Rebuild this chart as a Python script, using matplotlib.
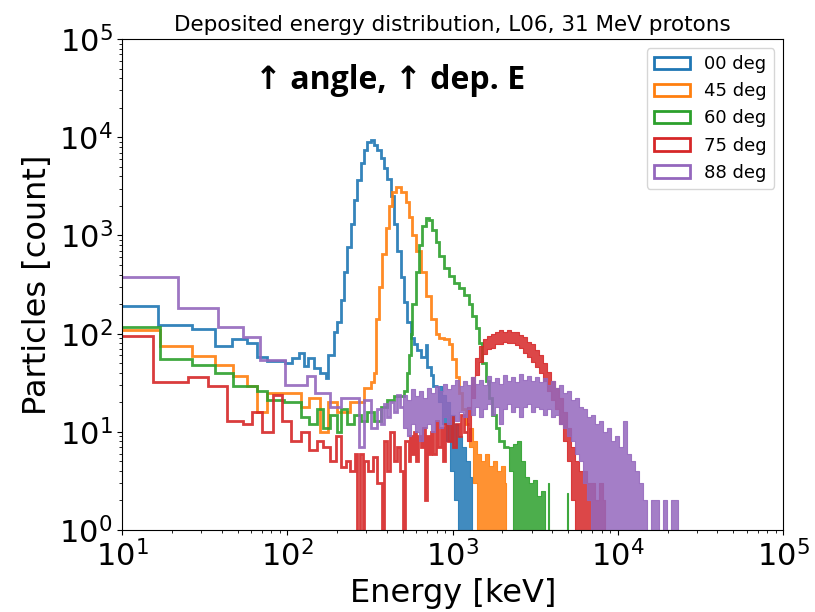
import matplotlib
matplotlib.use('Agg')
import matplotlib.pyplot as plt
from matplotlib.patches import Patch

# ---- histogram data (energy edges in keV, counts) ----
# 00 deg
e_00 = [10, 16.5, 26.5, 36.6, 46, 57, 65, 75, 97, 107, 117, 125, 134, 144, 158, 170, 177, 190, 200, 209.5,
        219.4, 230, 241, 252, 264.5, 277, 290, 304, 318.5, 333.5, 349.6, 366, 383.4, 401.8, 421, 440.6,
        462.4, 484, 506.8, 531.5, 556.5, 583, 611, 640, 686, 700, 736, 764, 810]
c_00 = [193, 123, 112, 74, 89, 80, 58, 53, 50, 57, 64, 47, 56, 45, 40, 35, 60, 105, 130, 222,
        420, 770, 1300, 2300, 3700, 5500, 7500, 9000, 9500, 8400, 7400, 6200, 4900, 3800, 2500, 1300,
        700, 380, 210, 130, 90, 78, 68, 58, 77, 46, 38, 29]
# noisy tail (many narrow bins): energy, upper and lower envelope of the counts
t_00 = [810, 856, 905, 957, 1012, 1070, 1131, 1196, 1265, 1300]
hi_00 = [29, 24, 20, 15, 12, 9, 7, 5, 3.5, 0]
lo_00 = [20, 12, 8, 4, 2, 0, 0, 0, 0, 0]

# 45 deg
e_45 = [10, 17, 26.5, 36.6, 47, 57, 65, 75, 95, 120, 135, 158, 175, 200, 240, 290, 318, 333.5, 341.6, 357.6,
        375, 392.6, 411, 431, 451, 484, 519, 544, 570, 597, 640, 686, 736, 789, 826, 885, 950, 995, 1044,
        1092, 1145, 1200, 1256]
c_45 = [110, 74, 59, 48, 37, 29, 16, 25, 25, 18, 22, 10, 20, 16, 20, 28, 32, 40, 140, 300,
        650, 1200, 2000, 2800, 3100, 2800, 2200, 1550, 1000, 700, 420, 240, 140, 100, 90, 88, 78, 55,
        36, 25, 17, 12]
t_45 = [1256, 1328, 1404, 1484, 1569, 1659, 1754, 1855, 1961, 2073, 2110]
hi_45 = [11, 8, 6, 5, 6, 4.5, 5, 4, 4.5, 3, 0]
lo_45 = [7, 3, 0, 0, 0, 0, 0, 0, 0, 0, 0]

# 60 deg
e_60 = [10, 17, 26.5, 36.6, 47, 65, 75, 95, 120, 135, 150, 165, 182, 200, 209.5, 230, 252, 277, 304, 333.5,
        366, 402, 441, 507, 531.5, 544, 556.5, 570, 597, 625, 655, 686, 719, 753, 789, 826, 885, 950,
        1018, 1092, 1172, 1256, 1316, 1378, 1443, 1512, 1584, 1659, 1738, 1820, 1906, 2046, 2195]
c_60 = [117, 55, 48, 40, 29, 26, 21, 20, 14, 12, 17, 11, 15, 10, 17, 12, 15, 13, 16,
        13, 18, 21, 23, 26, 40, 60, 100, 200, 420, 800, 1250, 1500, 1450, 1150, 850, 620, 470,
        390, 330, 295, 250, 200, 150, 115, 80, 50, 33, 22, 15, 11, 8, 7]
t_60 = [2195, 2321, 2454, 2594, 2743, 2900, 3066, 3242, 3428, 3624, 3750, 3800, 4900, 4960]
hi_60 = [7, 7.5, 8, 5, 3.5, 3, 3.2, 2.2, 2.5, 1, 3, 1, 2.4, 0]
lo_60 = [4, 0, 0, 0, 0, 0, 0, 0, 0, 0, 0, 0, 0, 0]

# 75 deg
e_75 = [10, 15.4, 25, 33, 43, 54, 61, 70, 82, 93, 105, 120, 135, 150, 165, 182, 196, 210, 225, 240,
        255, 265, 275, 285, 292, 305, 330, 350, 375, 385, 400, 420, 440, 460, 480, 500, 515, 540, 555,
        570, 585, 600, 620, 640, 660, 680, 700, 718, 736, 760, 790, 815, 846, 870, 900, 935, 973, 1010,
        1050, 1085, 1120, 1170, 1220]
c_75 = [95, 32, 36, 29, 13, 12, 16, 10, 24, 13, 8, 10, 6.5, 8, 7, 5, 9, 4.4, 5, 4,
        6, 0, 6, 0, 5, 4, 5.5, 3, 0, 8, 4, 10, 5, 7, 4, 0, 8, 5, 9,
        6, 10, 5, 9, 7, 11, 2, 9, 6, 10, 6, 13, 7, 11, 5, 12, 8, 14,
        7, 12, 9, 15, 10]
t_75 = [1220, 1290, 1364, 1442, 1525, 1612, 1704, 1802, 1905, 2014, 2130, 2252, 2381, 2517, 2661, 2814,
        2975, 3145, 3325, 3516, 3717, 3930, 4155, 4393, 4645, 4911, 5192, 5490, 5804, 6137, 6488, 6860,
        7253, 7669, 8108, 8300]
hi_75 = [18, 36, 56, 74, 88, 94, 100, 103, 108, 105, 109, 104, 104, 97, 92, 83, 78, 68, 60, 50,
         41, 33, 28, 22, 16, 11, 7, 5, 4, 4, 3, 3, 2, 3, 2, 0]
lo_75 = [8, 22, 38, 52, 62, 70, 72, 78, 78, 82, 80, 80, 76, 72, 64, 58, 52, 46, 40, 33,
         26, 21, 17, 12, 8, 5, 2, 0, 0, 0, 0, 0, 0, 0, 0, 0]

# 88 deg
e_88 = [10, 21.8, 38, 54, 68.6, 97, 132, 147, 182, 210, 270, 290, 318, 349, 370, 385, 400, 420, 440, 460,
        480, 500]
c_88 = [380, 184, 118, 92, 54, 30, 37, 25, 18, 22, 7, 21, 11, 17, 12, 19, 14, 20, 16, 24, 18]
t_88 = [500, 528, 558, 590, 624, 660, 698, 738, 780, 825, 872, 922, 975, 1031, 1090, 1152, 1218, 1288,
        1362, 1440, 1522, 1609, 1701, 1799, 1902, 2011, 2126, 2248, 2377, 2513, 2657, 2809, 2970, 3140,
        3320, 3510, 3711, 3924, 4149, 4387, 4638, 4904, 5185, 5482, 5796, 6128, 6479, 6850, 7243, 7658,
        8097, 8561, 9051, 9570, 10118, 10698, 11311, 11959, 12644, 13369, 14135, 14945, 15801, 16707,
        17664, 18676, 19746, 20878, 22074, 23000]
hi_88 = [24, 21, 27, 23, 26, 22, 28, 25, 29, 26, 31, 27, 30, 34, 29, 33, 30, 36, 31, 34,
         30, 37, 32, 35, 31, 38, 33, 36, 32, 39, 34, 37, 33, 36, 32, 35, 30, 33, 28, 30,
         25, 26, 21, 22, 18, 17, 14, 15, 12, 13, 10, 11, 8, 9, 7, 13, 6, 5, 4, 3,
         2, 1, 2, 2, 1, 2, 1, 2, 2, 0]
lo_88 = [11, 9, 12, 10, 8, 11, 12, 10, 13, 11, 14, 12, 15, 13, 16, 14, 17, 15, 18, 14,
         17, 19, 15, 18, 12, 17, 19, 16, 18, 14, 18, 19, 16, 18, 17, 15, 17, 14, 15, 12,
         11, 9, 8, 6, 5, 3, 2, 0, 0, 0, 0, 0, 0, 0, 0, 0, 0, 0, 0, 0,
         0, 0, 0, 0, 0, 0, 0, 0, 0, 0]

labels = ['00 deg', '45 deg', '60 deg', '75 deg', '88 deg']
colors = ['tab:blue', 'tab:orange', 'tab:green', 'tab:red', 'tab:purple']

series = [(e_00, c_00, t_00, hi_00, lo_00),
          (e_45, c_45, t_45, hi_45, lo_45),
          (e_60, c_60, t_60, hi_60, lo_60),
          (e_75, c_75, t_75, hi_75, lo_75),
          (e_88, c_88, t_88, hi_88, lo_88)]

fig = plt.figure(figsize=(8.15, 6.12), dpi=100)
ax = fig.add_axes([0.150, 0.134, 0.811, 0.802])

for (edges, counts, te, thi, tlo), col in zip(series, colors):
    ax.stairs(counts, edges, color=col, lw=2, alpha=0.9, baseline=None)
    # the dense, noisy part of each histogram
    ax.fill_between(te, tlo, thi, step='post', color=col, lw=0.8, alpha=0.85)

ax.set_xscale('log')
ax.set_yscale('log')
ax.set_xlim(10, 1e5)
ax.set_ylim(1, 1e5)

ax.tick_params(axis='both', which='major', labelsize=22)
ax.set_xlabel('Energy [keV]', fontsize=23)
ax.set_ylabel('Particles [count]', fontsize=23)
ax.set_title('Deposited energy distribution, L06, 31 MeV protons', fontsize=15.5)

handles = [Patch(facecolor='none', edgecolor=c, lw=2) for c in colors]
ax.legend(handles, labels, loc='upper right', fontsize=13)

ax.text(0.405, 0.915, '\u2191 angle, \u2191 dep. E', transform=ax.transAxes,
        ha='center', va='center', fontsize=23, fontweight='bold',
        family=['Open Sans', 'DejaVu Sans'])

fig.savefig('out.png', dpi=100)
